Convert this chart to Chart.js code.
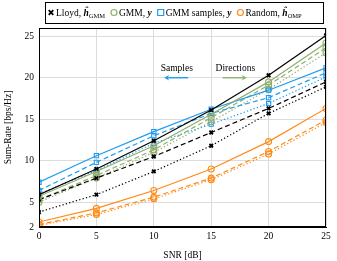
<!DOCTYPE html>
<html>
<head>
    <title>Sum-Rate vs SNR</title>
    <script src="https://cdn.jsdelivr.net/npm/chart.js"></script>
    <style>
        body {
            margin: 0;
            padding: 0;
            background-color: #ffffff;
        }
        #wrap {
            width: 337px;
            height: 261px;
        }
    </style>
</head>
<body>
    <div id="wrap"><canvas id="chart" width="337" height="261"></canvas></div>
    <script>
        const snr = [0, 5, 10, 15, 20, 25];
        const yTicks = [2, 5, 10, 15, 20, 25];

        // solid / dashed / dotted variants of each method
        const lloydSolid  = [5.9, 9.0, 12.4, 16.1, 20.3, 25.1];
        const lloydDashed = [5.3, 7.9, 10.5, 13.4, 16.3, 19.5];
        const lloydDotted = [3.8, 5.9, 8.7, 11.8, 15.7, 18.9];

        const gmmSolid  = [5.7, 8.7, 11.8, 15.6, 19.5, 24.2];
        const gmmDashed = [5.3, 8.2, 11.3, 15.2, 19.1, 23.6];
        const gmmDotted = [5.0, 7.9, 11.0, 14.7, 18.6, 23.0];

        const samplesSolid  = [7.4, 10.6, 13.5, 16.2, 18.5, 21.2];
        const samplesDashed = [6.4, 9.8, 13.0, 15.7, 17.6, 20.6];
        const samplesDotted = [6.0, 8.8, 12.1, 14.4, 16.9, 20.1];

        const randomSolid  = [2.6, 4.25, 6.4, 9.0, 12.3, 16.3];
        const randomDashed = [2.3, 3.7, 5.6, 7.9, 11.1, 14.9];
        const randomDotted = [2.2, 3.5, 5.4, 7.7, 10.8, 14.6];

        const BLACK = '#000000';
        const GREEN = '#8fae6c';
        const BLUE = '#1f9cf0';
        const ORANGE = '#ff8a14';
        const SERIF = '"Liberation Serif", "DejaVu Serif", serif';

        const DASH = { solid: [], dashed: [5, 3], dotted: [1.3, 2.2] };

        function series(values, color, marker, style) {
            return {
                data: values.map((v, i) => ({ x: snr[i], y: v })),
                borderColor: color,
                backgroundColor: 'rgba(0,0,0,0)',
                borderWidth: 1.2,
                borderDash: DASH[style],
                pointStyle: marker,
                pointRadius: marker === 'crossRot' ? 2.5 : 3,
                pointBorderColor: color,
                pointBorderWidth: marker === 'crossRot' ? 1.8 : 1.1,
                pointBackgroundColor: 'rgba(0,0,0,0)',
                tension: 0
            };
        }

        // legend, annotations and the full frame
        const extras = {
            id: 'extras',
            afterDraw(chart) {
                const ctx = chart.ctx;
                const xs = chart.scales.x, ys = chart.scales.y;
                const a = chart.chartArea;
                ctx.save();

                // frame
                ctx.strokeStyle = '#000';
                ctx.lineWidth = 1;
                ctx.strokeRect(a.left + 0.5, a.top + 0.5, a.right - a.left - 1, a.bottom - a.top - 1);

                // annotation text + arrows
                ctx.font = '9.5px ' + SERIF;
                ctx.fillStyle = '#000';
                ctx.textAlign = 'center';
                ctx.textBaseline = 'middle';
                ctx.fillText('Samples', xs.getPixelForValue(12.0), ys.getPixelForValue(21.1));
                ctx.fillText('Directions', xs.getPixelForValue(17.1), ys.getPixelForValue(21.1));
                arrow(ctx, xs.getPixelForValue(13.0), xs.getPixelForValue(10.9), ys.getPixelForValue(20.0), BLUE);
                arrow(ctx, xs.getPixelForValue(16.0), xs.getPixelForValue(18.1), ys.getPixelForValue(20.0), GREEN);

                // legend box
                ctx.strokeStyle = '#000';
                ctx.lineWidth = 1;
                ctx.strokeRect(45.5, 2.5, 278, 21);
                const entries = [
                    { color: BLACK, marker: 'x', parts: [['Lloyd, ', 'n'], ['ĥ', 'bi'], ['GMM', 's']] },
                    { color: GREEN, marker: 'o', parts: [['GMM, ', 'n'], ['y', 'bi']] },
                    { color: BLUE, marker: 'sq', parts: [['GMM samples, ', 'n'], ['y', 'bi']] },
                    { color: ORANGE, marker: 'p', parts: [['Random, ', 'n'], ['ĥ', 'bi'], ['OMP', 's']] }
                ];
                let x = 49;
                const yb = 16;
                ctx.textAlign = 'left';
                ctx.textBaseline = 'alphabetic';
                entries.forEach(e => {
                    drawMarker(ctx, e.marker, x + 2, yb - 3.5, e.color);
                    x += 7;
                    e.parts.forEach(p => {
                        let f = '9.5px ' + SERIF, dy = 0;
                        if (p[1] === 'bi') f = 'italic bold 9.5px ' + SERIF;
                        if (p[1] === 's') { f = '6.5px ' + SERIF; dy = 2; }
                        ctx.font = f;
                        ctx.fillStyle = '#000';
                        ctx.fillText(p[0], x, yb + dy);
                        x += ctx.measureText(p[0]).width;
                    });
                    x += 7;
                });
                ctx.restore();
            }
        };

        function arrow(ctx, x0, x1, y, color) {
            const dir = Math.sign(x1 - x0);
            ctx.strokeStyle = color;
            ctx.fillStyle = color;
            ctx.lineWidth = 1.4;
            ctx.beginPath();
            ctx.moveTo(x0, y);
            ctx.lineTo(x1 - dir * 3, y);
            ctx.stroke();
            ctx.beginPath();
            ctx.moveTo(x1, y);
            ctx.lineTo(x1 - dir * 5, y - 2.8);
            ctx.lineTo(x1 - dir * 3.5, y);
            ctx.lineTo(x1 - dir * 5, y + 2.8);
            ctx.closePath();
            ctx.fill();
        }

        function drawMarker(ctx, m, x, y, color) {
            ctx.strokeStyle = color;
            ctx.lineWidth = m === 'x' ? 1.8 : 1.2;
            ctx.beginPath();
            if (m === 'x') {
                ctx.moveTo(x - 2.3, y - 2.3); ctx.lineTo(x + 2.3, y + 2.3);
                ctx.moveTo(x + 2.3, y - 2.3); ctx.lineTo(x - 2.3, y + 2.3);
            } else if (m === 'o' || m === 'p') {
                ctx.arc(x, y, 3, 0, Math.PI * 2);
            } else {
                ctx.rect(x - 3, y - 3, 6, 6);
            }
            ctx.stroke();
        }

        const ctx = document.getElementById('chart').getContext('2d');
        new Chart(ctx, {
            type: 'line',
            data: {
                datasets: [
                    series(lloydSolid, BLACK, 'crossRot', 'solid'),
                    series(gmmSolid, GREEN, 'circle', 'solid'),
                    series(samplesSolid, BLUE, 'rect', 'solid'),
                    series(randomSolid, ORANGE, 'circle', 'solid'),
                    series(lloydDashed, BLACK, 'crossRot', 'dashed'),
                    series(gmmDashed, GREEN, 'circle', 'dashed'),
                    series(samplesDashed, BLUE, 'rect', 'dashed'),
                    series(randomDashed, ORANGE, 'circle', 'dashed'),
                    series(lloydDotted, BLACK, 'crossRot', 'dotted'),
                    series(gmmDotted, GREEN, 'circle', 'dotted'),
                    series(samplesDotted, BLUE, 'rect', 'dotted'),
                    series(randomDotted, ORANGE, 'circle', 'dotted')
                ]
            },
            options: {
                responsive: false,
                animation: false,
                maintainAspectRatio: false,
                layout: { padding: { top: 28, right: 11, left: 0, bottom: 0 } },
                plugins: {
                    legend: { display: false },
                    tooltip: { enabled: false }
                },
                scales: {
                    x: {
                        type: 'linear',
                        min: 0,
                        max: 25,
                        afterFit: s => { s.height = 34; },
                        ticks: { stepSize: 5, color: '#000', font: { family: SERIF, size: 9.5 }, padding: 4 },
                        grid: { color: '#dcdcdc', drawTicks: false },
                        border: { color: '#000' },
                        title: { display: true, text: 'SNR [dB]', color: '#000', font: { family: SERIF, size: 9.5 }, padding: { top: 2, bottom: 0 } }
                    },
                    y: {
                        min: 2,
                        max: 26,
                        afterFit: s => { s.width = 39; },
                        afterBuildTicks: s => { s.ticks = yTicks.map(v => ({ value: v })); },
                        ticks: { color: '#000', font: { family: SERIF, size: 9.5 }, padding: 5 },
                        grid: { color: '#dcdcdc', drawTicks: false },
                        border: { color: '#000' },
                        title: { display: true, text: 'Sum-Rate [bps/Hz]', color: '#000', font: { family: SERIF, size: 9.5 }, padding: { top: 3, bottom: 0 } }
                    }
                }
            },
            plugins: [extras]
        });
    </script>
</body>
</html>
